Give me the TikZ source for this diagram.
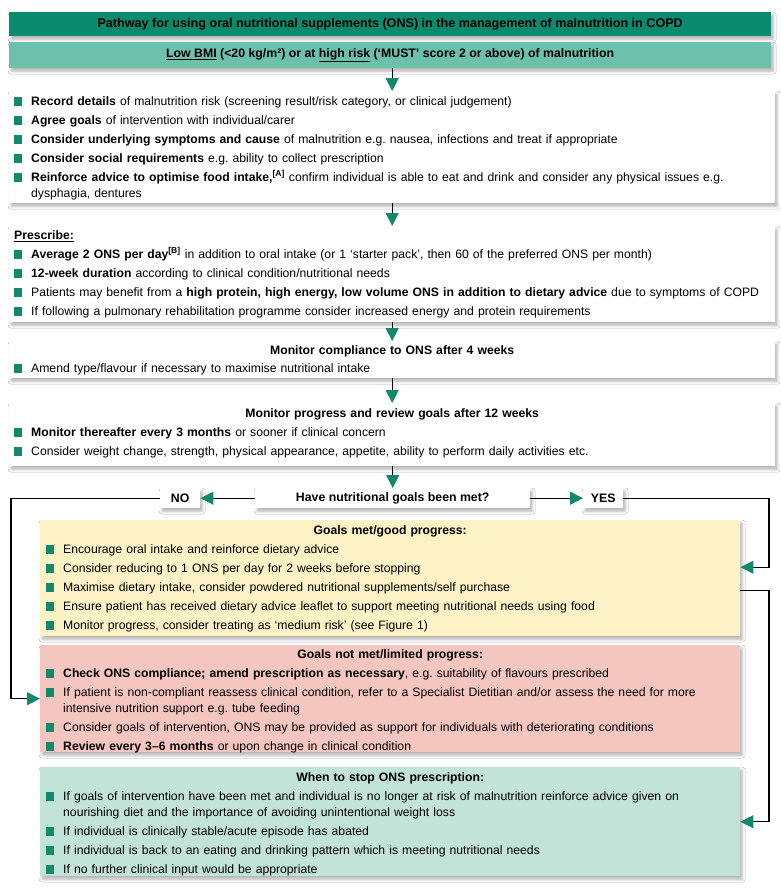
\documentclass[tikz,border=0pt]{standalone}
\usepackage{fontspec}
\setmainfont{Liberation Sans}
\usetikzlibrary{arrows.meta,shadows.blur}
\frenchspacing
\definecolor{hdgreen}{HTML}{0A8B6D}
\definecolor{subgreen}{HTML}{6DC1AC}
\definecolor{bul}{HTML}{11896A}
\definecolor{yel}{HTML}{FDF2C5}
\definecolor{pnk}{HTML}{F4C6BF}
\definecolor{lgr}{HTML}{C2E3D8}
\newcommand\bsq{\textcolor{bul}{\rule[-0.3pt]{8pt}{8.8pt}}}
\newcommand\itm[1]{\hangindent=17pt\hangafter=1\noindent\strut\makebox[17pt][l]{\bsq}#1\par}
\newcommand\ttl[1]{\noindent\strut\makebox[\linewidth]{\bfseries #1}\par}
\tikzset{
  x=1pt, y=-1pt,
  shd/.style={blur shadow={shadow xshift=2pt, shadow yshift=-3pt, shadow blur radius=3pt, shadow opacity=30}},
  box/.style={shd, draw=none, fill=white, inner sep=0pt, anchor=north west, font=\fontsize{12.3}{16}\selectfont\bfseries\frenchspacing},
  content/.style={inner sep=0pt, anchor=north west, align=left, font=\fontsize{12.2}{16}\selectfont\frenchspacing},
  conn/.style={draw=black, line width=1.1pt, -{Triangle[length=13pt,width=13pt,color=bul]}}
}
\begin{document}
\begin{tikzpicture}
\useasboundingbox[fill=white] (0,0) rectangle (780,891);
% boxes
\node[box, fill=hdgreen, minimum width=762pt, minimum height=24pt, font=\fontsize{12.6}{16}\selectfont\bfseries] (head) at (9,12) {Pathway for using oral nutritional supplements (ONS) in the management of malnutrition in COPD};
\node[box, fill=subgreen, minimum width=762pt, minimum height=26pt] (sub) at (9,42) {\underline{Low BMI} (<20 kg/m²) or at \underline{high risk} (‘MUST’ score 2 or above) of malnutrition};
\node[box, minimum width=766pt, minimum height=112pt] (b1) at (9,91) {};
\node[box, minimum width=766pt, minimum height=96pt] (b2) at (9,226) {};
\node[box, minimum width=766pt, minimum height=37pt] (b3) at (9,341) {};
\node[box, minimum width=766pt, minimum height=63pt] (b4) at (9,403) {};
\node[box, minimum width=275pt, minimum height=20pt] (dec) at (255,488) {Have nutritional goals been met?};
\node[box, minimum width=40pt, minimum height=20pt] (no) at (160,488) {NO};
\node[box, minimum width=40pt, minimum height=20pt] (yes) at (583,488) {YES};
\node[box, fill=yel, minimum width=700pt, minimum height=116pt] (yelb) at (40,520) {};
\node[box, fill=pnk, minimum width=700pt, minimum height=107pt] (pnkb) at (40,645) {};
\node[box, fill=lgr, minimum width=700pt, minimum height=109pt] (grnb) at (40,767) {};
% contents
\node[content, text width=756pt] (c1) at ([xshift=5pt,yshift=-2.8pt]b1.north west) {%
\setlength\parskip{3pt}%
\itm{\textbf{Record details} of malnutrition risk (screening result/risk category, or clinical judgement)}%
\itm{\textbf{Agree goals} of intervention with individual/carer}%
\itm{\textbf{Consider underlying symptoms and cause} of malnutrition e.g. nausea, infections and treat if appropriate}%
\itm{\textbf{Consider social requirements} e.g. ability to collect prescription}%
\itm{\textbf{Reinforce advice to optimise food intake,\textsuperscript{[A]}} confirm individual is able to eat and drink and consider any physical issues e.g.\newline dysphagia, dentures}};
\node[content, text width=756pt] (c2) at ([xshift=5pt,yshift=-1.8pt]b2.north west) {%
\setlength\parskip{3pt}%
\noindent\strut\textbf{\underline{Prescribe:}}\par
\itm{\textbf{Average 2 ONS per day\textsuperscript{[B]}} in addition to oral intake (or 1 ‘starter pack’, then 60 of the preferred ONS per month)}%
\itm{\textbf{12-week duration} according to clinical condition/nutritional needs}%
\itm{Patients may benefit from a \textbf{high protein, high energy, low volume ONS in addition to dietary advice} due to symptoms of COPD}%
\itm{If following a pulmonary rehabilitation programme consider increased energy and protein requirements}};
\node[content, text width=756pt] (c3) at ([xshift=5pt,yshift=-1.8pt]b3.north west) {%
\setlength\parskip{2pt}%
\ttl{Monitor compliance to ONS after 4 weeks}%
\itm{Amend type/flavour if necessary to maximise nutritional intake}};
\node[content, text width=756pt] (c4) at ([xshift=5pt,yshift=-3.5pt]b4.north west) {%
\setlength\parskip{3pt}%
\ttl{Monitor progress and review goals after 12 weeks}%
\itm{\textbf{Monitor thereafter every 3 months} or sooner if clinical concern}%
\itm{Consider weight change, strength, physical appearance, appetite, ability to perform daily activities etc.}};
\node[content, text width=688pt] (c5) at ([xshift=6pt,yshift=-3.5pt]yelb.north west) {%
\setlength\parskip{3pt}%
\ttl{Goals met/good progress:}%
\itm{Encourage oral intake and reinforce dietary advice}%
\itm{Consider reducing to 1 ONS per day for 2 weeks before stopping}%
\itm{Maximise dietary intake, consider powdered nutritional supplements/self purchase}%
\itm{Ensure patient has received dietary advice leaflet to support meeting nutritional needs using food}%
\itm{Monitor progress, consider treating as ‘medium risk’ (see Figure 1)}};
\node[content, text width=688pt] (c6) at ([xshift=6pt,yshift=-2.5pt]pnkb.north west) {%
\setlength\parskip{3pt}%
\ttl{Goals not met/limited progress:}%
\itm{\textbf{Check ONS compliance; amend prescription as necessary}, e.g. suitability of flavours prescribed}%
\itm{If patient is non-compliant reassess clinical condition, refer to a Specialist Dietitian and/or assess the need for more\newline intensive nutrition support e.g. tube feeding}%
\itm{Consider goals of intervention, ONS may be provided as support for individuals with deteriorating conditions}%
\itm{\textbf{Review every 3–6 months} or upon change in clinical condition}};
\node[content, text width=688pt] (c7) at ([xshift=6pt,yshift=-3.3pt]grnb.north west) {%
\setlength\parskip{3pt}%
\ttl{When to stop ONS prescription:}%
\itm{If goals of intervention have been met and individual is no longer at risk of malnutrition reinforce advice given on\newline nourishing diet and the importance of avoiding unintentional weight loss}%
\itm{If individual is clinically stable/acute episode has abated}%
\itm{If individual is back to an eating and drinking pattern which is meeting nutritional needs}%
\itm{If no further clinical input would be appropriate}};
% connectors
\coordinate (lx) at (11,0);
\coordinate (rx) at (769,0);
\coordinate (yin) at ([yshift=11pt]yelb.east);
\coordinate (yout) at ([yshift=-12pt]yelb.east);
\draw[conn] (sub.south -| b1.north) -- (b1.north);
\draw[conn] (b1.south) -- (b2.north);
\draw[conn] (b2.south) -- (b3.north);
\draw[conn] (b3.south) -- (b4.north);
\draw[conn] (b4.south -| dec.north) -- (dec.north);
\draw[conn] (dec.west) -- (no.east);
\draw[conn] (dec.east) -- (yes.west);
\draw[conn] (no.west) -| (lx |- pnkb.west) -- (pnkb.west);
\draw[conn] (yes.east) -| (rx |- yin) -- (yin);
\draw[conn] (yout) -| (rx |- grnb.east) -- (grnb.east);
\end{tikzpicture}
\end{document}
